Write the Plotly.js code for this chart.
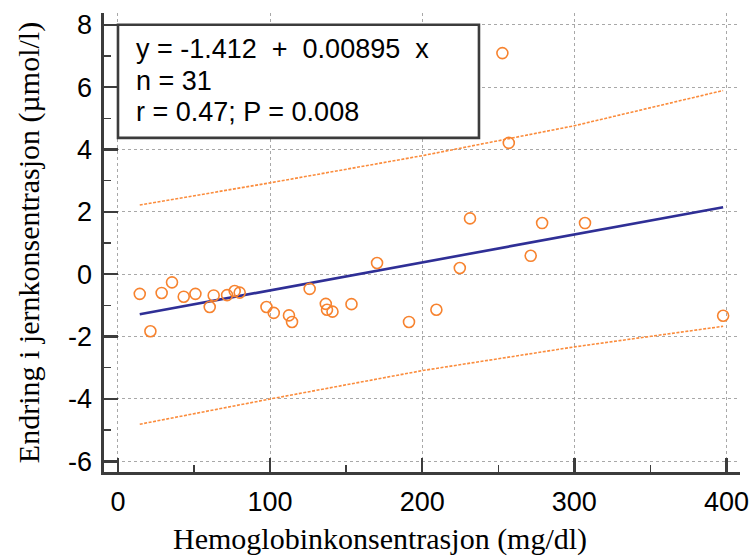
<!DOCTYPE html>
<html>
<head>
<meta charset="utf-8">
<script src="https://cdn.plot.ly/plotly-3.0.1.min.js"></script>
<style>html,body{margin:0;padding:0;background:#fff;} #chart{width:752px;height:556px;}</style>
</head>
<body>
<div id="chart"></div>
<script>
// Data
const hemoglobin = [14.3, 21.3, 28.7, 35.5, 43.2, 50.9, 60.3, 62.9, 71.7, 76.7, 80.0,
  97.6, 102.4, 112.4, 114.4, 126.0, 136.6, 137.4, 141.0, 153.5,
  170.3, 191.3, 209.3, 224.7, 231.4, 252.7, 256.9, 271.3, 278.8, 307.0, 397.8];
const ironChange = [-0.63, -1.83, -0.60, -0.26, -0.72, -0.63, -1.05, -0.68, -0.67, -0.54, -0.59,
  -1.05, -1.24, -1.32, -1.53, -0.47, -0.95, -1.14, -1.20, -0.96,
  0.36, -1.53, -1.14, 0.20, 1.79, 7.09, 4.21, 0.59, 1.64, 1.64, -1.33];

// Regression line (from printed equation) endpoints
const fitX = [14.3, 397.8];
const fitY = [-1.284, 2.148];

// Prediction band
const bandX = [14.3, 100, 200, 300, 397.8];
const bandUpper = [2.22, 2.93, 3.80, 4.76, 5.89];
const bandLower = [-4.81, -4.00, -3.09, -2.33, -1.67];

const xTickVals = [0, 100, 200, 300, 400];
const xTickText = ['0', '100', '200', '300', '400'];
const yTickVals = [-6, -4, -2, 0, 2, 4, 6, 8];
const yTickText = ['-6', '-4', '-2', '0', '2', '4', '6', '8'];

const statsLines = ['y = -1.412  +  0.00895  x', 'n = 31', 'r = 0.47; P = 0.008'];
const statsLineY = [7.22, 6.20, 5.21];

const xTitle = 'Hemoglobinkonsentrasjon (mg/dl)';
const yTitle = 'Endring i jernkonsentrasjon (µmol/l)';

const orange = '#f7832f';
const axisCol = '#3c3c3c';

const traces = [
  {x: bandX, y: bandUpper, mode: 'lines', type: 'scatter', hoverinfo: 'skip',
   line: {color: '#fb8c3c', width: 1.6, dash: '3px,1.5px'}},
  {x: bandX, y: bandLower, mode: 'lines', type: 'scatter', hoverinfo: 'skip',
   line: {color: '#fb8c3c', width: 1.6, dash: '3px,1.5px'}},
  {x: fitX, y: fitY, mode: 'lines', type: 'scatter',
   line: {color: '#2f2f96', width: 2.6}},
  {x: hemoglobin, y: ironChange, mode: 'markers', type: 'scatter',
   marker: {symbol: 'circle-open', size: 11, color: orange, line: {color: orange, width: 1.6}}}
];

const tickFont = {family: 'Liberation Sans, Arial, sans-serif', size: 27, color: '#000'};
const titleFont = {family: 'Liberation Serif, Times New Roman, serif', size: 30, color: '#000'};
const boxFont = {family: 'Liberation Sans, Arial, sans-serif', size: 27, color: '#000'};

const annotations = statsLines.map((t, i) => ({
  xref: 'x', yref: 'y', x: 10.5, y: statsLineY[i], xanchor: 'left', yanchor: 'middle',
  align: 'left', showarrow: false, text: t, font: boxFont
}));
annotations.push({
  xref: 'paper', yref: 'paper', x: 0.434, y: -0.146, xanchor: 'center', yanchor: 'middle',
  showarrow: false, text: xTitle, font: titleFont
});

const layout = {
  width: 752, height: 556,
  margin: {l: 104, r: 12, t: 13, b: 84, pad: 0},
  paper_bgcolor: '#fff', plot_bgcolor: '#fff',
  showlegend: false,
  xaxis: {
    range: [-9.2, 408.9], tickmode: 'array', tickvals: xTickVals, ticktext: xTickText,
    showline: true, linecolor: axisCol, linewidth: 2.6,
    ticks: 'inside', ticklen: 14, tickwidth: 2.4, tickcolor: axisCol,
    ticklabelstandoff: 4,
    minor: {ticks: 'inside', ticklen: 7, tickwidth: 1.4, tickcolor: axisCol, dtick: 50, tick0: 0, showgrid: false},
    showgrid: true, gridcolor: '#a8a8a8', gridwidth: 1, griddash: 'dot',
    zeroline: false, tickfont: tickFont
  },
  yaxis: {
    range: [-6.341, 8.375], tickmode: 'array', tickvals: yTickVals, ticktext: yTickText,
    showline: true, linecolor: axisCol, linewidth: 2.6,
    ticks: 'inside', ticklen: 14, tickwidth: 2.4, tickcolor: axisCol,
    ticklabelstandoff: 4,
    minor: {ticks: 'inside', ticklen: 7, tickwidth: 1.4, tickcolor: axisCol, dtick: 1, tick0: 0, showgrid: false},
    showgrid: true, gridcolor: '#a8a8a8', gridwidth: 1, griddash: 'dot',
    zeroline: false, tickfont: tickFont,
    title: {text: yTitle, font: titleFont, standoff: 20}
  },
  shapes: [
    {type: 'rect', xref: 'x', yref: 'y', x0: 0, x1: 237.3, y0: 4.37, y1: 8,
     fillcolor: '#fff', line: {color: axisCol, width: 2.6}, layer: 'above'}
  ],
  annotations: annotations
};

Plotly.newPlot('chart', traces, layout, {staticPlot: true, displayModeBar: false});
</script>
</body>
</html>
